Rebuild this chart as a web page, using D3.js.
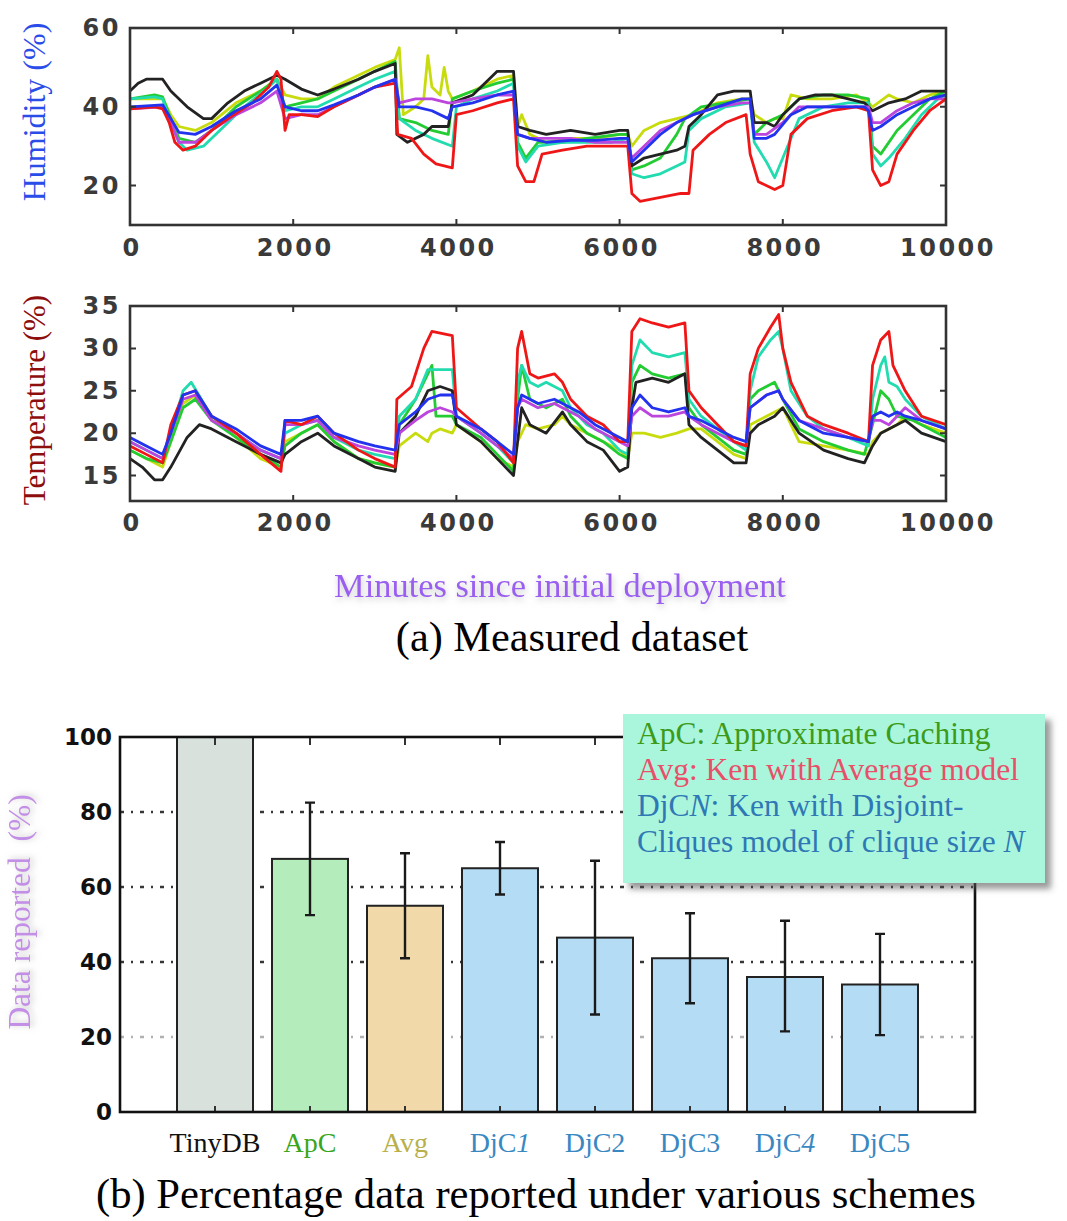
<!DOCTYPE html>
<html lang="en">
<head>
    <meta charset="UTF-8">
    <title>Measured dataset and data reported</title>
    <script src="https://cdn.jsdelivr.net/npm/d3@7"></script>
    <style>
        body { margin: 0; background: #fff; }
        svg { display: block; }
    </style>
</head>
<body>
<div id="chart-space"></div>
<script>
    // ---- data ----
    var minuteTicks = [0, 2000, 4000, 6000, 8000, 10000];
    var humidityTicks = [20, 40, 60];
    var temperatureTicks = [15, 20, 25, 30, 35];

    // humidity (%) per sensor, [minute, value]
    var humBlack = [[0,44],[100,46],[200,47],[400,47],[500,44],[700,40],[900,37],[1000,37],[1200,41],[1400,44],[1600,46],[1800,48],[1900,47],[2100,44.5],[2300,43],[2500,44.5],[2800,47],[3000,49],[3250,51],[3270,33],[3400,31],[3600,33],[3700,35],[3900,35],[3950,41],[4200,43],[4400,47],[4500,49],[4700,49],[4750,35],[4900,34],[5100,33],[5400,34],[5700,33],[6000,34],[6100,34],[6150,25],[6300,27],[6500,28],[6700,29],[6800,30],[6850,35],[7000,38],[7200,43],[7400,44],[7600,44],[7650,36],[7800,36],[7900,35],[8000,38],[8200,42],[8400,43],[8600,43],[8800,42],[9000,41],[9100,39],[9300,41],[9500,42],[9700,44],[10000,44]];
    var humRed = [[0,39.5],[300,40],[400,39.5],[480,36],[550,31],[650,29],[800,30],[1000,34],[1200,37],[1500,41],[1700,45],[1800,49],[1850,47],[1900,34],[1950,38],[2100,38],[2300,37.5],[2500,40],[2800,43],[3000,45],[3250,46],[3280,33],[3450,32],[3600,28],[3750,25.5],[3950,24.5],[4000,38],[4200,39],[4500,41],[4700,42],[4750,25],[4850,21],[4950,21],[5050,28],[5300,29],[5600,30],[5900,30],[6100,30],[6150,18],[6250,16],[6500,17],[6750,18],[6850,18],[6900,29],[7100,33],[7300,36],[7550,38],[7600,28],[7700,21],[7900,19],[8000,20],[8100,33],[8300,37],[8600,39],[8900,40],[9050,39],[9100,24],[9200,20],[9300,21],[9400,28],[9600,34],[9800,39],[10000,42]];
    var humBlue = [[0,40],[400,40.5],[500,37],[600,33.5],[800,33],[1000,35],[1300,39],[1600,42],[1800,45.5],[1900,40],[2100,39],[2300,39],[2500,40.5],[2800,43],[3000,45],[3250,47],[3300,40],[3500,40],[3700,39],[3900,37],[3950,40],[4200,41],[4500,43],[4700,44],[4750,33],[4900,32],[5100,31],[5400,31.5],[5700,31.5],[6000,32],[6100,32],[6150,26],[6300,29],[6500,33],[6700,36],[6900,38],[7200,40],[7500,42],[7600,42],[7650,32],[7800,32],[7900,33],[8100,38],[8300,40],[8600,40],[9000,40],[9050,39],[9100,34],[9200,35],[9400,38],[9600,40],[9800,42],[10000,43]];
    var humGreen = [[0,42],[300,43],[400,42.5],[500,37],[600,32],[800,31],[1000,34],[1300,40],[1600,44],[1800,47],[1900,40],[2100,41],[2300,42],[2500,44],[2800,47],[3000,49],[3250,51.5],[3300,37],[3500,36],[3700,34],[3900,33],[3950,42],[4200,44],[4500,46],[4700,47],[4750,31],[4850,27],[5000,31],[5300,31],[5600,32],[6000,33],[6100,33],[6150,24],[6300,25],[6500,27],[6700,33],[6800,37],[7000,40],[7300,41],[7600,42],[7650,33],[7800,36],[8000,38],[8200,42],[8500,43],[8800,43],[9050,42],[9100,30],[9200,28],[9400,34],[9600,38],[9800,42],[10000,44]];
    var humYellow = [[0,42],[300,42],[400,42],[500,38],[600,35],[800,34],[1000,36],[1300,41],[1600,44],[1800,47],[1900,43],[2100,42],[2300,42],[2500,45],[2800,48],[3000,50],[3250,52],[3300,55],[3350,38],[3500,40],[3600,42],[3650,53],[3700,45],[3800,43],[3850,50],[3900,44],[3950,42],[4200,44],[4500,47],[4700,48],[4750,35],[4800,38],[4900,33],[5100,31],[5400,32],[5700,32],[6000,33],[6100,33],[6150,30],[6300,34],[6500,36],[6700,37],[6900,38],[7200,41],[7500,42],[7600,42],[7650,38],[7800,36],[7900,37],[8000,37],[8100,43],[8300,42],[8600,42],[8900,43],[9050,41],[9100,40],[9300,43],[9400,42],[9600,41],[9800,43],[10000,44]];
    var humTeal = [[0,42],[300,42.5],[400,42],[500,36],[600,31],[700,29],[900,30],[1100,34],[1400,40],[1700,45],[1800,47],[1900,39],[2100,40],[2300,40],[2500,42],[2800,45],[3000,47],[3250,49],[3300,37],[3500,34],[3700,32],[3950,30],[4000,40],[4200,42],[4500,44],[4700,46],[4750,30],[4850,26],[5000,30],[5300,31],[5600,31],[5900,31],[6100,32],[6150,23],[6300,22],[6500,23],[6700,25],[6800,26],[6850,34],[7000,37],[7300,40],[7600,41],[7650,31],[7800,26],[7900,22],[8000,27],[8200,37],[8500,40],[8800,41],[9050,41],[9100,28],[9200,25],[9300,27],[9500,32],[9700,38],[9900,42],[10000,43]];
    var humMagenta = [[0,39.5],[400,40],[500,36],[600,31],[800,31],[1000,34],[1300,38],[1600,41],[1800,44],[1900,37],[2100,38],[2300,38],[2500,40],[2800,43],[3000,45],[3250,47],[3300,41],[3500,42],[3700,42],[3900,41],[3950,41],[4200,42],[4500,43],[4700,43],[4750,33],[4900,32],[5100,32],[5400,32],[5700,31],[6000,31],[6100,31],[6150,27],[6300,30],[6500,34],[6700,36],[6900,38],[7200,40],[7500,41],[7600,41],[7650,33],[7800,33],[8000,36],[8200,40],[8500,40],[8800,40],[9050,40],[9100,36],[9200,36],[9400,39],[9600,41],[9800,42],[10000,42]];

    // temperature per sensor, [minute, value]
    var tmpBlack = [[0,17],[150,16],[300,14.5],[400,14.5],[500,16],[700,19.5],[850,21],[1000,20.5],[1300,19],[1600,17.5],[1850,16.5],[1900,17.5],[2100,19],[2300,20],[2500,18.5],[2800,17],[3000,16],[3250,15.5],[3300,20],[3500,22],[3650,25],[3800,25.5],[3950,25],[4000,21],[4300,19],[4500,17],[4700,15],[4750,19],[4800,23],[4900,21],[5100,20],[5300,22.5],[5400,21],[5600,19],[5800,18],[6000,15.5],[6100,16],[6150,23],[6200,26],[6400,26.5],[6600,26],[6800,27],[6850,21],[7000,19.5],[7200,18],[7400,16.5],[7550,16.5],[7600,20],[7700,21],[7900,22],[8000,23],[8200,20],[8500,18],[8800,17],[9000,16.5],[9100,18.5],[9200,20],[9400,21],[9500,21.5],[9700,20],[10000,19]];
    var tmpRed = [[0,18.5],[200,17.5],[400,16.5],[500,21],[650,24.5],[800,25],[1000,22],[1300,20],[1600,17.5],[1850,15.5],[1900,21.5],[2100,21],[2300,22],[2500,20],[2800,18],[3000,17],[3250,16],[3270,24],[3450,25.5],[3600,30],[3700,32],[3950,31.5],[4000,23],[4300,20.5],[4500,19],[4700,16.5],[4750,30],[4800,32],[4900,27],[5000,26.5],[5200,27],[5300,26],[5400,24],[5600,22],[5800,21],[6000,19],[6100,19],[6150,32],[6250,33.5],[6400,33],[6600,32.5],[6800,33],[6850,25],[7000,23],[7200,21],[7400,19],[7550,18.5],[7600,27],[7700,30],[7850,32.5],[7950,34],[8000,30],[8100,26],[8300,22],[8500,21],[8800,20],[9050,19],[9100,28],[9200,31],[9300,32],[9350,28],[9500,25],[9700,22],[10000,21]];
    var tmpBlue = [[0,19.5],[200,18.5],[400,17.5],[500,20],[650,24.5],[800,25],[1000,22],[1300,20.5],[1600,18.5],[1850,17.5],[1900,21.5],[2100,21.5],[2300,22],[2500,20],[2800,19],[3000,18.5],[3250,18],[3300,21],[3500,22.5],[3650,24],[3800,24.5],[3950,24.5],[4000,22],[4300,20.5],[4500,19],[4700,17.5],[4750,23],[4800,24.5],[5000,23.5],[5200,24],[5300,23.5],[5500,22.5],[5700,21],[6000,19.5],[6100,19],[6150,23],[6250,24.5],[6400,23],[6600,22.5],[6800,23],[6850,22],[7000,21.5],[7200,20.5],[7400,19.5],[7550,19],[7600,23],[7800,24.5],[7950,25],[8000,24],[8200,21.5],[8500,20],[8800,19.5],[9050,19],[9100,22],[9200,22.5],[9300,22],[9400,22.5],[9500,22],[9700,21.5],[10000,20.5]];
    var tmpGreen = [[0,18],[200,17],[400,16.5],[500,19],[650,23],[800,24],[1000,21.5],[1300,19.5],[1600,17.5],[1850,16],[1900,18.5],[2100,20],[2300,21],[2500,19],[2800,17],[3000,16.5],[3250,16],[3300,21],[3500,24],[3650,27],[3700,28],[3750,22],[3950,22],[4000,21],[4300,19.5],[4500,17.5],[4700,15.5],[4750,24],[4800,28],[4900,24],[5100,23],[5300,24],[5400,22],[5600,20],[5800,19],[6000,17.5],[6100,17],[6150,26],[6250,28],[6400,27],[6600,26.5],[6800,27],[6850,23],[7000,21],[7200,19.5],[7400,18],[7550,17.5],[7600,24],[7700,25],[7900,26],[8000,24],[8200,20.5],[8500,19],[8800,18],[9000,17.5],[9100,21],[9200,25],[9300,24],[9400,22],[9600,21.5],[9800,20.5],[10000,19.5]];
    var tmpYellow = [[0,18],[200,17],[400,16],[500,19],[650,23.5],[800,24.5],[1000,22],[1300,19.5],[1600,17],[1850,16],[1900,19],[2100,20],[2300,21],[2500,19],[2800,17],[3000,16.5],[3250,16],[3300,18.5],[3500,20],[3650,19],[3700,20],[3800,20.5],[3950,20],[4000,21],[4300,19],[4500,17],[4700,16],[4750,19],[4850,21],[5000,20.5],[5200,21],[5300,22],[5400,21],[5600,20],[5800,19],[6000,18],[6100,17],[6150,20],[6300,20],[6500,19.5],[6700,20],[6850,20.5],[7000,20.5],[7200,19],[7400,17.5],[7550,17],[7600,21],[7800,22],[8000,23],[8100,21],[8200,19],[8500,18.5],[8800,18],[9050,17.5],[9100,19],[9200,20],[9400,21],[9500,22],[9700,21],[10000,20]];
    var tmpTeal = [[0,19],[200,18],[400,17],[500,20],[650,25],[750,26],[1000,22],[1300,20],[1600,18],[1850,17],[1900,20],[2100,21],[2300,21.5],[2500,19.5],[2800,18],[3000,17.5],[3250,17],[3300,22],[3500,24],[3650,27.5],[3800,27.5],[3950,27.5],[4000,22],[4300,20],[4500,18.5],[4700,16.5],[4750,26],[4800,28],[4900,26],[5000,25.5],[5100,26],[5300,25],[5400,23],[5600,21],[5800,20],[6000,18],[6100,17.5],[6150,28],[6250,31],[6400,29.5],[6600,29],[6800,29.5],[6850,24],[7000,22],[7200,20.5],[7400,19],[7550,18],[7600,25],[7700,29],[7850,31],[7950,32],[8000,30],[8100,25],[8300,22],[8500,20.5],[8800,19.5],[9050,18.5],[9100,24],[9200,28],[9250,29],[9300,26],[9400,25.5],[9500,24],[9700,22],[10000,20.5]];
    var tmpMagenta = [[0,19],[200,18],[400,17],[500,20],[650,24],[800,24.5],[1000,21.5],[1300,20],[1600,18],[1850,17],[1900,21],[2100,21],[2300,21.5],[2500,19.5],[2800,18.5],[3000,18],[3250,17.5],[3300,20],[3500,21.5],[3650,22.5],[3800,23],[3950,22.5],[4000,22],[4300,20],[4500,18.5],[4700,17],[4750,23],[4800,24],[5000,23],[5200,23.5],[5300,23],[5500,22],[5700,20.5],[6000,19],[6100,18.5],[6150,22],[6250,23],[6400,22],[6600,22],[6800,22.5],[6850,22],[7000,21],[7200,20],[7400,19],[7550,18.5],[7600,23],[7800,24.5],[7950,25],[8000,24],[8200,21.5],[8500,20.5],[8800,19.5],[9050,19],[9100,21.5],[9200,21.5],[9300,21],[9400,22],[9500,23],[9700,21.5],[10000,20.5]];

    // bar chart
    var schemes = ["TinyDB", "ApC", "Avg", "DjC1", "DjC2", "DjC3", "DjC4", "DjC5"];
    var reported = [100, 67.5, 55, 65, 46.5, 41, 36, 34];
    var errLow = [null, 52.5, 41, 58, 26, 29, 21.5, 20.5];
    var errHigh = [null, 82.5, 69, 72, 67, 53, 51, 47.5];
    var reportedTicks = [0, 20, 40, 60, 80, 100];

    // ---- drawing ----
    var width = 1067, height = 1221;

    var svg = d3.select("#chart-space")
                .append("svg")
                .attr("width", width)
                .attr("height", height);

    svg.append("rect").attr("width", width).attr("height", height).attr("fill", "#fff");

    var defs = svg.append("defs");
    var glow = defs.append("filter").attr("id", "glow")
        .attr("x", "-20%").attr("y", "-40%").attr("width", "140%").attr("height", "180%");
    glow.append("feDropShadow").attr("dx", 1).attr("dy", 3).attr("stdDeviation", 3)
        .attr("flood-color", "#999").attr("flood-opacity", 0.55);
    var boxShadow = defs.append("filter").attr("id", "boxShadow")
        .attr("x", "-10%").attr("y", "-10%").attr("width", "130%").attr("height", "130%");
    boxShadow.append("feDropShadow").attr("dx", 6).attr("dy", 6).attr("stdDeviation", 3)
        .attr("flood-color", "#555").attr("flood-opacity", 0.6);
    var soft = defs.append("filter").attr("id", "soft");
    soft.append("feGaussianBlur").attr("stdDeviation", 0.5);

    var sensorColors = {
        yellow: "#c8dc10", green: "#22cc33", teal: "#22dcb0", black: "#222222",
        magenta: "#bb44dd", red: "#ee1818", blue: "#2233ee"
    };

    var tickFont = "'DejaVu Sans', sans-serif";
    var serif = "'Liberation Serif', 'Times New Roman', serif";

    var xScale = d3.scaleLinear().domain([0, 10000]).range([130, 946]);

    function lineChart(yDomain, yRange, yTicks, series, labelY) {
        var yScale = d3.scaleLinear().domain(yDomain).range(yRange);
        var g = svg.append("g");
        var line = d3.line()
            .x(function(d){ return xScale(d[0]); })
            .y(function(d){ return yScale(d[1]); });

        g.append("g").attr("filter", "url(#soft)")
          .selectAll("path")
          .data(series)
          .join("path")
          .attr("d", function(d){ return line(d.points); })
          .attr("fill", "none")
          .attr("stroke", function(d){ return d.color; })
          .attr("stroke-width", 2.8)
          .attr("stroke-linejoin", "round");

        // inward ticks on all four sides
        var x0 = xScale.range()[0], x1 = xScale.range()[1];
        var y0 = yScale.range()[0], y1 = yScale.range()[1];
        var inner = minuteTicks.slice(1, -1);
        g.selectAll(".xt").data(inner).join("path")
          .attr("d", function(d){ var x = xScale(d);
              return "M" + x + "," + y0 + "v-6M" + x + "," + y1 + "v6"; })
          .attr("stroke", "#333").attr("stroke-width", 2);
        g.selectAll(".yt").data(yTicks.filter(function(d){ return yScale(d) > y1 + 2; })).join("path")
          .attr("d", function(d){ var y = yScale(d);
              return "M" + x0 + "," + y + "h6M" + x1 + "," + y + "h-6"; })
          .attr("stroke", "#333").attr("stroke-width", 2);

        g.append("rect")
          .attr("x", x0).attr("y", y1)
          .attr("width", x1 - x0).attr("height", y0 - y1)
          .attr("fill", "none").attr("stroke", "#333").attr("stroke-width", 2.6);

        g.selectAll(".xl").data(minuteTicks).join("text")
          .attr("x", function(d){ return xScale(d) + 2; })
          .attr("y", labelY)
          .attr("text-anchor", "middle")
          .attr("font-family", tickFont).attr("font-weight", "bold")
          .attr("font-size", 24).attr("letter-spacing", 2.5)
          .attr("fill", "#3a3a3a")
          .text(function(d){ return d; });

        g.selectAll(".yl").data(yTicks).join("text")
          .attr("x", 121)
          .attr("y", function(d){ return yScale(d) + 8; })
          .attr("text-anchor", "end")
          .attr("font-family", tickFont).attr("font-weight", "bold")
          .attr("font-size", 24).attr("letter-spacing", 2.5)
          .attr("fill", "#3a3a3a")
          .text(function(d){ return d; });
        return g;
    }

    var humiditySeries = [
        {color: sensorColors.yellow, points: humYellow},
        {color: sensorColors.green, points: humGreen},
        {color: sensorColors.teal, points: humTeal},
        {color: sensorColors.black, points: humBlack},
        {color: sensorColors.magenta, points: humMagenta},
        {color: sensorColors.red, points: humRed},
        {color: sensorColors.blue, points: humBlue}
    ];
    var temperatureSeries = [
        {color: sensorColors.yellow, points: tmpYellow},
        {color: sensorColors.green, points: tmpGreen},
        {color: sensorColors.teal, points: tmpTeal},
        {color: sensorColors.black, points: tmpBlack},
        {color: sensorColors.magenta, points: tmpMagenta},
        {color: sensorColors.red, points: tmpRed},
        {color: sensorColors.blue, points: tmpBlue}
    ];

    lineChart([10, 60], [225, 28], humidityTicks, humiditySeries, 256);
    lineChart([12, 35], [501, 306], temperatureTicks, temperatureSeries, 531);

    svg.append("text")
       .attr("transform", "translate(45,112) rotate(-90)")
       .attr("text-anchor", "middle")
       .attr("font-family", serif).attr("font-size", 32)
       .attr("fill", "#2a4ce8")
       .text("Humidity (%)");

    svg.append("text")
       .attr("transform", "translate(45,400) rotate(-90)")
       .attr("text-anchor", "middle")
       .attr("font-family", serif).attr("font-size", 31)
       .attr("fill", "#8e0d0d")
       .text("Temperature (%)");

    svg.append("text")
       .attr("x", 560).attr("y", 597)
       .attr("text-anchor", "middle")
       .attr("font-family", serif).attr("font-size", 34.4)
       .attr("fill", "#9a5ef0")
       .attr("filter", "url(#glow)")
       .text("Minutes since initial deployment");

    svg.append("text")
       .attr("x", 572).attr("y", 651)
       .attr("text-anchor", "middle")
       .attr("font-family", serif).attr("font-size", 42.3)
       .attr("fill", "#000")
       .text("(a) Measured dataset");

    // ---- bar chart ----
    var bx = d3.scaleLinear().domain([0, schemes.length + 1]).range([120, 975]);
    var by = d3.scaleLinear().domain([0, 100]).range([1112, 737]);
    var barW = (bx(1) - bx(0)) * 0.8;
    var barFill = ["#d9e1dd", "#b4ecbc", "#f1d9aa", "#b5dcf5", "#b5dcf5", "#b5dcf5", "#b5dcf5", "#b5dcf5"];
    var labelColor = ["#111", "#3aa61c", "#b9b04c", "#3a88c2", "#3a88c2", "#3a88c2", "#3a88c2", "#3a88c2"];
    var bars = svg.append("g");

    // dash-dot grid
    bars.selectAll(".grid").data(reportedTicks.slice(1, -1)).join("line")
        .attr("x1", bx.range()[0]).attr("x2", bx.range()[1])
        .attr("y1", function(d){ return by(d); }).attr("y2", function(d){ return by(d); })
        .attr("stroke", "#222").attr("stroke-width", 2.4)
        .attr("stroke-dasharray", "4,7,2,7")
        .attr("opacity", function(d){ return d === 20 ? 0.35 : 0.9; });

    bars.selectAll(".bar").data(reported).join("rect")
        .attr("x", function(d, i){ return bx(i + 1) - barW / 2; })
        .attr("y", function(d){ return by(d); })
        .attr("width", barW)
        .attr("height", function(d){ return by(0) - by(d); })
        .attr("fill", function(d, i){ return barFill[i]; })
        .attr("stroke", "#222").attr("stroke-width", 2);

    var errIdx = d3.range(schemes.length).filter(function(i){ return errLow[i] !== null; });
    bars.selectAll(".err").data(errIdx).join("path")
        .attr("d", function(i){
            var x = bx(i + 1), lo = by(errLow[i]), hi = by(errHigh[i]);
            return "M" + x + "," + lo + "V" + hi +
                   "M" + (x - 5) + "," + lo + "h10M" + (x - 5) + "," + hi + "h10";
        })
        .attr("fill", "none").attr("stroke", "#1a1a1a").attr("stroke-width", 2.4);

    // ticks on top and bottom at each scheme
    bars.selectAll(".bt").data(d3.range(1, schemes.length + 1)).join("path")
        .attr("d", function(d){ return "M" + bx(d) + "," + by(100) + "v8M" + bx(d) + "," + by(0) + "v-6"; })
        .attr("stroke", "#333").attr("stroke-width", 2);

    bars.append("rect")
        .attr("x", bx.range()[0]).attr("y", by(100))
        .attr("width", bx.range()[1] - bx.range()[0]).attr("height", by(0) - by(100))
        .attr("fill", "none").attr("stroke", "#111").attr("stroke-width", 2.6);

    bars.selectAll(".byl").data(reportedTicks).join("text")
        .attr("x", 112)
        .attr("y", function(d){ return by(d) + 8; })
        .attr("text-anchor", "end")
        .attr("font-family", tickFont).attr("font-weight", "bold")
        .attr("font-size", 23)
        .attr("fill", "#111")
        .text(function(d){ return d; });

    var italicDigits = ["1", "4"];
    var catLabels = bars.selectAll(".cat").data(schemes).join("text")
        .attr("x", function(d, i){ return bx(i + 1); })
        .attr("y", 1152)
        .attr("text-anchor", "middle")
        .attr("font-family", serif).attr("font-size", 28)
        .attr("fill", function(d, i){ return labelColor[i]; });
    catLabels.each(function(d){
        var t = d3.select(this);
        if (d.indexOf("DjC") === 0) {
            var digit = d.slice(3);
            t.append("tspan").text("DjC");
            t.append("tspan").attr("font-style", italicDigits.indexOf(digit) >= 0 ? "italic" : "normal").text(digit);
        } else {
            t.text(d);
        }
    });

    svg.append("text")
       .attr("transform", "translate(30,912) rotate(-90)")
       .attr("text-anchor", "middle")
       .attr("font-family", serif).attr("font-size", 31.5)
       .attr("fill", "#c38fe6")
       .attr("filter", "url(#glow)")
       .attr("xml:space", "preserve")
       .text("Data reported  (%)");

    // legend box
    var legendLines = [
        {color: "#3d9b1a", parts: [["ApC: Approximate Caching", false]]},
        {color: "#e8506a", parts: [["Avg: Ken with Average model", false]]},
        {color: "#2f78b5", parts: [["DjC", false], ["N", true], [": Ken with Disjoint-", false]]},
        {color: "#2f78b5", parts: [["Cliques model of clique size ", false], ["N", true]]}
    ];
    var legend = svg.append("g");
    legend.append("rect")
        .attr("x", 623).attr("y", 714).attr("width", 422).attr("height", 169)
        .attr("fill", "#aaf6dc")
        .attr("filter", "url(#boxShadow)");
    legend.selectAll("text").data(legendLines).join("text")
        .attr("x", 637)
        .attr("y", function(d, i){ return 744 + i * 36; })
        .attr("font-family", serif).attr("font-size", 31.5)
        .attr("fill", function(d){ return d.color; })
        .attr("xml:space", "preserve")
        .each(function(d){
            var t = d3.select(this);
            d.parts.forEach(function(p){
                t.append("tspan").attr("font-style", p[1] ? "italic" : "normal").text(p[0]);
            });
        });

    svg.append("text")
       .attr("x", 536).attr("y", 1208)
       .attr("text-anchor", "middle")
       .attr("font-family", serif).attr("font-size", 42.6)
       .attr("fill", "#000")
       .text("(b) Percentage data reported under various schemes");
</script>
</body>
</html>
